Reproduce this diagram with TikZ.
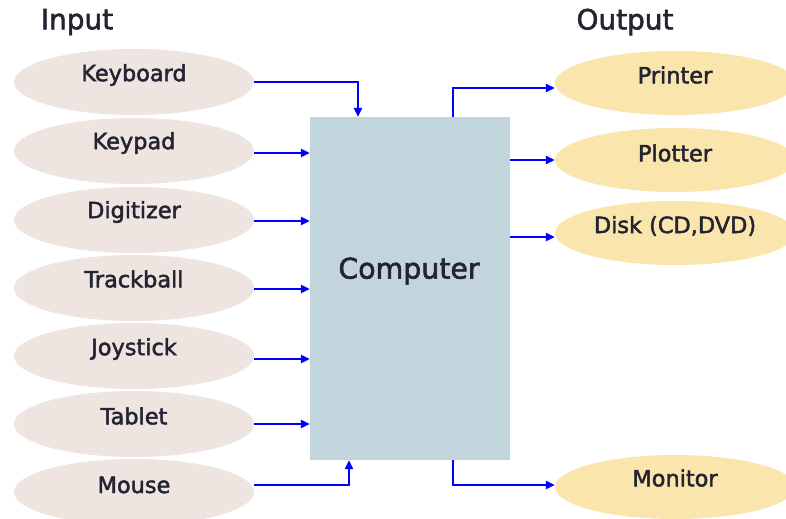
\documentclass[tikz,border=0pt]{standalone}
\usepackage{fontspec}
\setmainfont{DejaVu Sans}
\newfontfamily\lblfont{DejaVu Sans}[FakeBold=2]
\usetikzlibrary{shapes.geometric,arrows.meta}
\definecolor{inpfill}{RGB}{238,228,224}
\definecolor{outfill}{RGB}{250,230,172}
\definecolor{compfill}{RGB}{194,213,221}
\definecolor{txt}{RGB}{35,35,50}
\begin{document}
\begin{tikzpicture}[x=1bp,y=-1bp,
  inell/.style={ellipse,fill=inpfill,minimum width=240bp,minimum height=66bp,inner sep=0pt},
  outell/.style={ellipse,fill=outfill,minimum width=240bp,minimum height=64bp,inner sep=0pt},
  lbl/.style={text=txt,font=\lblfont\fontsize{22.5}{26}\selectfont,inner sep=0pt},
  head/.style={text=txt,font=\lblfont\fontsize{28}{32}\selectfont,inner sep=0pt},
  arr/.style={draw=blue,line width=2.4bp,-{Triangle[length=9bp,width=8bp]}}]
\clip (0,0) rectangle (786,519);
\useasboundingbox (0,0) rectangle (786,519);
\fill[white] (0,0) rectangle (786,519);

% headings
\node[head] (hin) at (77,22) {Input};
\node[head] (hout) at (625,22) {Output};

% computer
\node[fill=compfill,minimum width=200bp,minimum height=343bp,inner sep=0pt] (comp) at (410,288.5) {};
\node[text=txt,font=\lblfont\fontsize{28.5}{32}\selectfont,inner sep=0pt] (comptxt) at (409,271) {Computer};

% input ellipses
\node[inell] (kb) at (134,82) {};
\node[inell] (kp) at (134,151) {};
\node[inell] (dg) at (134,220) {};
\node[inell] (tb) at (134,288) {};
\node[inell] (js) at (134,356) {};
\node[inell] (tl) at (134,424) {};
\node[inell] (ms) at (134,492) {};
\node[lbl] (kbt) at (134,75) {Keyboard};
\node[lbl] (kpt) at (134,143) {Keypad};
\node[lbl] (dgt) at (134,212) {Digitizer};
\node[lbl] (tbt) at (134,279) {Trackball};
\node[lbl] (jst) at (134,349) {Joystick};
\node[lbl] (tlt) at (134,416) {Tablet};
\node[lbl] (mst) at (134,485) {Mouse};

% output ellipses
\node[outell] (pr) at (675,83) {};
\node[outell] (pl) at (675,160) {};
\node[outell] (dk) at (675,233) {};
\node[outell] (mn) at (675,487) {};
\node[lbl] (prt) at (675,75) {Printer};
\node[lbl] (plt) at (675,153) {Plotter};
\node[lbl] (dkt) at (675,226) {Disk (CD,DVD)};
\node[lbl] (mnt) at (675,478) {Monitor};

% input connectors
\draw[arr] (kb.east) -| ([xshift=-52bp]comp.north);
\draw[arr] ([yshift=-2bp]kp.east) -- ([yshift=-2bp]kp.east -| comp.west);
\draw[arr] ([yshift=-1bp]dg.east) -- ([yshift=-1bp]dg.east -| comp.west);
\draw[arr] ([yshift=-1bp]tb.east) -- ([yshift=-1bp]tb.east -| comp.west);
\draw[arr] ([yshift=-3bp]js.east) -- ([yshift=-3bp]js.east -| comp.west);
\draw[arr] (tl.east) -- (tl.east -| comp.west);
\draw[arr] ([yshift=7bp]ms.east) -| ([xshift=-61bp]comp.south);

% output connectors
\draw[arr] ([xshift=43bp]comp.north) |- ([yshift=-5bp]pr.west);
\draw[arr] (pl.west -| comp.east) -- (pl.west);
\draw[arr] ([yshift=-4bp]dk.west -| comp.east) -- ([yshift=-4bp]dk.west);
\draw[arr] ([xshift=43bp]comp.south) |- ([yshift=2bp]mn.west);
\end{tikzpicture}
\end{document}
